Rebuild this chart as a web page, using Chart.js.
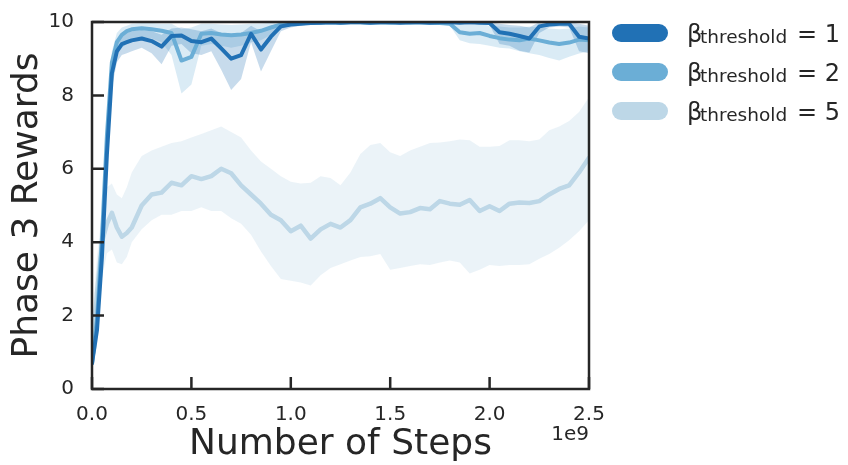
<!DOCTYPE html>
<html><head><meta charset="utf-8">
<script src="https://cdn.jsdelivr.net/npm/chart.js@4.4.0/dist/chart.umd.min.js"></script>
<style>html,body{margin:0;padding:0;background:#fff;}#wrap{width:848px;height:465px;}</style>
</head><body><div id="wrap"><canvas id="c" width="848" height="465"></canvas></div>
<script>
// x positions in units of 1e9 steps
const steps = [0, 0.025, 0.05, 0.075, 0.1, 0.125, 0.15, 0.175, 0.2,
  0.25, 0.3, 0.35, 0.4, 0.45, 0.5, 0.55, 0.6, 0.65, 0.7,
  0.75, 0.8, 0.85, 0.9, 0.95, 1.0, 1.05, 1.1, 1.15, 1.2,
  1.25, 1.3, 1.35, 1.4, 1.45, 1.5, 1.55, 1.6, 1.65, 1.7,
  1.75, 1.8, 1.85, 1.9, 1.95, 2.0, 2.05, 2.1, 2.15, 2.2,
  2.25, 2.3, 2.35, 2.4, 2.45, 2.5];

// beta_threshold = 1
const reward1 = [0.7, 1.6, 3.6, 6.4, 8.6, 9.2, 9.4, 9.45, 9.5,
  9.55, 9.48, 9.33, 9.62, 9.63, 9.48, 9.45, 9.55, 9.28, 9.0,
  9.1, 9.68, 9.25, 9.6, 9.88, 9.93, 9.95, 9.97, 9.98, 9.99,
  9.98, 9.99, 9.99, 9.98, 9.99, 9.99, 9.98, 9.99, 9.99, 9.98,
  9.99, 9.99, 9.98, 9.99, 9.98, 9.97, 9.72, 9.68, 9.62, 9.55,
  9.88, 9.93, 9.95, 9.95, 9.6, 9.55];
const upper1 = [0.9, 2.0, 4.2, 7.0, 8.9, 9.45, 9.65, 9.7, 9.75,
  9.78, 9.75, 9.65, 9.82, 9.85, 9.8, 9.75, 9.82, 9.7, 9.6,
  9.7, 9.9, 9.75, 9.9, 9.98, 10, 10, 10, 10, 10,
  10, 10, 10, 10, 10, 10, 10, 10, 10, 10,
  10, 10, 10, 10, 10, 10, 9.95, 9.92, 9.9, 9.85,
  10, 10, 10, 10, 9.95, 9.9];
const lower1 = [0.5, 1.2, 3.0, 5.8, 8.2, 8.9, 9.1, 9.15, 9.2,
  9.3, 9.15, 8.85, 9.35, 9.4, 9.15, 9.1, 9.2, 8.7, 8.15,
  8.45, 9.45, 8.65, 9.2, 9.75, 9.85, 9.9, 9.94, 9.95, 9.96,
  9.95, 9.96, 9.96, 9.95, 9.96, 9.96, 9.95, 9.96, 9.96, 9.95,
  9.96, 9.96, 9.95, 9.96, 9.94, 9.92, 9.4, 9.35, 9.22, 9.17,
  9.7, 9.85, 9.88, 9.85, 9.2, 9.15];

// beta_threshold = 2
const reward2 = [0.7, 1.9, 4.1, 6.9, 8.9, 9.45, 9.65, 9.75, 9.8,
  9.83, 9.8, 9.76, 9.7, 8.95, 9.05, 9.68, 9.7, 9.66, 9.64,
  9.66, 9.7, 9.76, 9.85, 9.93, 9.96, 9.97, 9.98, 9.98, 9.99,
  9.98, 9.99, 9.99, 9.98, 9.99, 9.98, 9.99, 9.98, 9.99, 9.98,
  9.97, 9.95, 9.72, 9.68, 9.7, 9.62, 9.56, 9.52, 9.5, 9.55,
  9.5, 9.44, 9.4, 9.44, 9.52, 9.5];
const upper2 = [0.9, 2.4, 4.8, 7.5, 9.2, 9.7, 9.85, 9.9, 9.95,
  9.97, 9.97, 9.95, 9.95, 9.8, 9.85, 9.95, 9.95, 9.93, 9.92,
  9.93, 9.95, 9.96, 9.98, 10, 10, 10, 10, 10, 10,
  10, 10, 10, 10, 10, 10, 10, 10, 10, 10,
  10, 10, 9.95, 9.92, 9.95, 9.9, 9.88, 9.85, 9.85, 9.88,
  9.85, 9.82, 9.8, 9.82, 9.88, 9.85];
const lower2 = [0.5, 1.4, 3.4, 6.3, 8.5, 9.1, 9.3, 9.4, 9.45,
  9.55, 9.55, 9.45, 9.1, 8.05, 8.3, 9.35, 9.4, 9.35, 9.3,
  9.35, 9.45, 9.5, 9.65, 9.8, 9.9, 9.93, 9.94, 9.95, 9.95,
  9.95, 9.96, 9.95, 9.95, 9.96, 9.95, 9.95, 9.96, 9.95, 9.95,
  9.93, 9.9, 9.5, 9.42, 9.4, 9.35, 9.3, 9.28, 9.2, 9.15,
  9.1, 9.02, 8.95, 9.05, 9.14, 9.2];

// beta_threshold = 5
const reward5 = [0.7, 2.6, 4.0, 4.5, 4.8, 4.4, 4.15, 4.25, 4.4,
  5.0, 5.3, 5.35, 5.62, 5.55, 5.8, 5.72, 5.8, 6.0, 5.88,
  5.55, 5.3, 5.05, 4.75, 4.6, 4.3, 4.45, 4.1, 4.35, 4.5,
  4.4, 4.6, 4.95, 5.05, 5.2, 4.95, 4.78, 4.82, 4.93, 4.9,
  5.12, 5.05, 5.02, 5.15, 4.85, 4.98, 4.85, 5.05, 5.08, 5.07,
  5.12, 5.3, 5.45, 5.55, 5.9, 6.3];
const upper5 = [1.8, 3.6, 4.8, 5.5, 5.6, 5.3, 5.2, 5.5, 5.9,
  6.35, 6.5, 6.6, 6.7, 6.75, 6.85, 6.95, 7.05, 7.15, 7.0,
  6.85, 6.5, 6.2, 6.0, 5.8, 5.65, 5.6, 5.62, 5.8, 5.75,
  5.55, 5.9, 6.4, 6.65, 6.7, 6.45, 6.35, 6.5, 6.6, 6.7,
  6.72, 6.75, 6.8, 6.78, 6.6, 6.6, 6.62, 6.78, 6.78, 6.75,
  6.8, 7.05, 7.15, 7.3, 7.55, 7.95];
const lower5 = [0.4, 1.8, 3.0, 3.7, 3.8, 3.45, 3.4, 3.6, 4.0,
  4.35, 4.6, 4.75, 4.75, 4.85, 4.85, 4.95, 4.85, 4.85, 4.65,
  4.5, 4.2, 3.75, 3.35, 3.0, 2.95, 2.9, 2.82, 3.1, 3.3,
  3.4, 3.5, 3.6, 3.62, 3.68, 3.25, 3.3, 3.35, 3.4, 3.38,
  3.45, 3.5, 3.45, 3.15, 3.25, 3.38, 3.35, 3.38, 3.38, 3.4,
  3.55, 3.68, 3.85, 4.05, 4.3, 4.6];

const xTicks = [0, 0.5, 1.0, 1.5, 2.0, 2.5];
const yTicks = [0, 2, 4, 6, 8, 10];
const thresholds = ['1', '2', '5'];
const lineColors = ['#2171b5', '#6baed6', '#bdd7e7'];
const bandColors = ['rgba(33,113,181,0.25)', 'rgba(107,174,214,0.25)', 'rgba(189,215,231,0.3)'];

const FONT = "'DejaVu Sans', sans-serif";
const INK = '#262626';
const pts = arr => steps.map((x, i) => ({x: x, y: arr[i]}));

function lineDs(arr, color, w) {
  return {data: pts(arr), borderColor: color, borderWidth: w, pointRadius: 0, fill: false, tension: 0, borderJoinStyle: 'round', borderCapStyle: 'round'};
}
function bandDs(arr, color, fillTarget) {
  return {data: pts(arr), borderColor: 'rgba(0,0,0,0)', borderWidth: 0, pointRadius: 0, fill: fillTarget, backgroundColor: color, tension: 0};
}

const datasets = [
  lineDs(reward1, lineColors[0], 4),
  lineDs(reward2, lineColors[1], 4),
  lineDs(reward5, lineColors[2], 4.5),
  bandDs(lower1, bandColors[0], false),
  bandDs(upper1, bandColors[0], '-1'),
  bandDs(lower2, bandColors[1], false),
  bandDs(upper2, bandColors[1], '-1'),
  bandDs(lower5, bandColors[2], false),
  bandDs(upper5, bandColors[2], '-1')
];

const framePlugin = {
  id: 'frame',
  afterDraw(chart) {
    const ctx = chart.ctx, a = chart.chartArea;
    const xs = chart.scales.x, ys = chart.scales.y;
    ctx.save();
    ctx.strokeStyle = INK;
    ctx.lineWidth = 2.5;
    ctx.strokeRect(a.left, a.top, a.right - a.left, a.bottom - a.top);
    ctx.beginPath();
    xTicks.forEach(v => { const p = xs.getPixelForValue(v); ctx.moveTo(p, a.bottom); ctx.lineTo(p, a.bottom - 12); });
    yTicks.forEach(v => { const p = ys.getPixelForValue(v); ctx.moveTo(a.left, p); ctx.lineTo(a.left + 12, p); });
    ctx.stroke();
    // offset text
    ctx.fillStyle = INK;
    ctx.font = '20px ' + FONT;
    ctx.textAlign = 'right';
    ctx.textBaseline = 'alphabetic';
    ctx.fillText('1e9', a.right, 440);
    // legend
    const rows = [42, 81, 120];
    thresholds.forEach((t, i) => {
      const yb = rows[i];
      ctx.fillStyle = lineColors[i];
      ctx.beginPath();
      ctx.roundRect(612, yb - 18, 56, 18, 9);
      ctx.fill();
      ctx.fillStyle = INK;
      ctx.textAlign = 'left';
      ctx.font = '24px ' + FONT;
      ctx.fillText('\u03B2', 687, yb);
      ctx.font = '18.5px ' + FONT;
      ctx.fillText('threshold', 700, yb + 1);
      ctx.font = '24px ' + FONT;
      ctx.fillText('= ' + t, 797, yb);
    });
    ctx.restore();
  }
};

new Chart(document.getElementById('c'), {
  type: 'line',
  data: {datasets: datasets},
  options: {
    responsive: false,
    animation: false,
    events: [],
    layout: {padding: {left: 0, right: 259, top: 16, bottom: 0}},
    plugins: {legend: {display: false}, tooltip: {enabled: false}, filler: {drawTime: 'beforeDatasetsDraw'}},
    scales: {
      x: {
        type: 'linear', min: 0, max: 2.5,
        afterBuildTicks: s => { s.ticks = xTicks.map(v => ({value: v})); },
        afterFit: s => { s.height = 76; },
        grid: {display: false}, border: {display: false},
        ticks: {callback: v => Number(v).toFixed(1), font: {family: FONT, size: 20}, color: INK, padding: 6, maxRotation: 0, autoSkip: false},
        title: {display: true, text: 'Number of Steps', font: {family: FONT, size: 36, lineHeight: 1.15}, color: INK, padding: 0}
      },
      y: {
        type: 'linear', min: 0, max: 10,
        afterBuildTicks: s => { s.ticks = yTicks.map(v => ({value: v})); },
        afterFit: s => { s.width = 92; },
        grid: {display: false}, border: {display: false},
        ticks: {callback: v => String(v), font: {family: FONT, size: 20}, color: INK, padding: 10, autoSkip: false},
        title: {display: true, text: 'Phase 3 Rewards', font: {family: FONT, size: 36, lineHeight: 1.15}, color: INK, padding: {top: 7, bottom: 0}}
      }
    }
  },
  plugins: [framePlugin]
});
</script>
</body></html>
